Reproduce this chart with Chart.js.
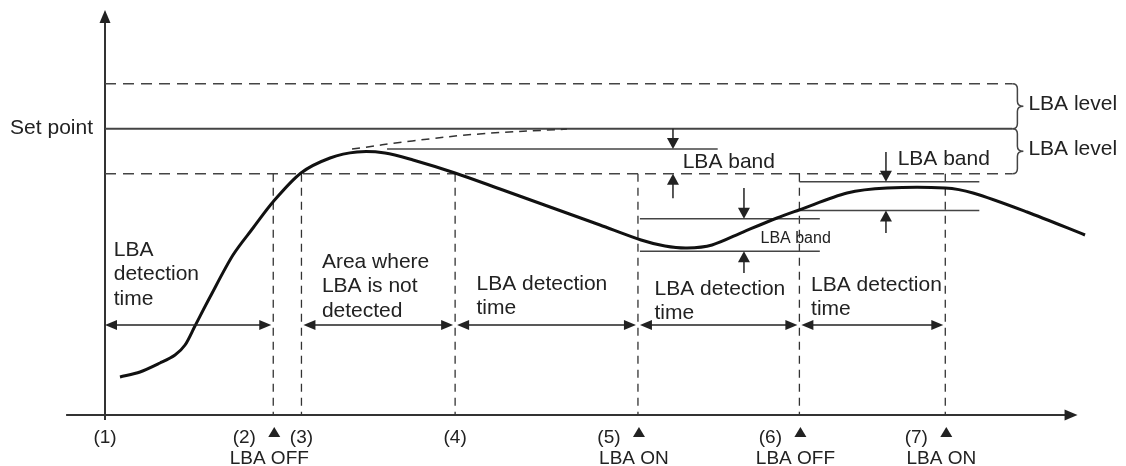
<!DOCTYPE html>
<html><head><meta charset="utf-8">
<script src="https://cdn.jsdelivr.net/npm/chart.js@4/dist/chart.umd.min.js"></script>
<style>html,body{margin:0;padding:0;background:#fff}</style>
</head><body>
<canvas id="c" width="1126" height="466"></canvas>
<script>
// ---------- data (chart units: x = time, y = process value) ----------
const curveX = [1.54,3.60,5.66,7.20,8.23,9.25,10.80,13.16,15.22,17.27,20.15,23.14,25.91,28.79,31.67,35.99,40.62,45.76,50.90,55.12,57.58,59.85,62.42,65.60,69.10,71.36,76.30,80.41,86.38,89.25,94.81,100.77];
const curveY = [9.29,10.51,12.71,14.67,17.11,21.76,28.84,39.11,45.71,52.07,59.16,62.82,64.29,64.04,62.33,59.16,55.24,50.84,46.44,42.78,41.31,40.82,41.56,44.73,48.16,50.11,54.27,55.49,55.49,54.27,49.62,44.00];
const expectX = [25.4,31.6,38.5,47.5];
const expectY = [65.0,67.0,68.7,69.9];

const setPoint = 70;
const lbaLevel = 11;
const levelEndX = 93.3;

const eventX = [0,17.3,20.2,36.0,54.8,71.4,86.4];
const eventNames = ["(1)","(2)","(3)","(4)","(5)","(6)","(7)"];
const switchEvent = [1,4,5,6];
const switchText = ["LBA OFF","LBA ON","LBA OFF","LBA ON"];

const spanFrom = [0,2,3,4,5];
const spanTo = [1,3,4,5,6];
const spanArrowY = 22.0;
const spanText = [["LBA","detection","time"],["Area where","LBA is not","detected"],["LBA detection","time"],["LBA detection","time"],["LBA detection","time"]];
const spanTextX = [0.9,22.3,38.2,56.5,72.6];
const spanTextY = [40.3,37.4,32.0,30.8,31.8];

const bandUpper = [65,48,57];
const bandLower = [59,40,50];
const bandFrom = [29.0,55.0,71.4];
const bandTo = [63.0,73.5,89.9];
const bandArrowX = [58.4,65.7,80.3];
const bandTailTop = [70,55.5,64.3];
const bandTailBottom = [53.0,34.7,44.5];
const bandLabelX = [59.4,67.4,81.5];
const bandLabelY = [61.8,43.0,62.6];
const bandLabel = ["LBA band","LBA band","LBA band"];

// ---------- styles ----------
const INK = '#222';
const FONT = "'Liberation Sans', Arial, sans-serif";
const bandFontSize = [21,16,21];

function tri(ctx, x, y, dir, len, wid){
  ctx.beginPath();
  if(dir==='up'){ctx.moveTo(x,y);ctx.lineTo(x-wid/2,y+len);ctx.lineTo(x+wid/2,y+len);}
  else if(dir==='down'){ctx.moveTo(x,y);ctx.lineTo(x-wid/2,y-len);ctx.lineTo(x+wid/2,y-len);}
  else if(dir==='right'){ctx.moveTo(x,y);ctx.lineTo(x-len,y-wid/2);ctx.lineTo(x-len,y+wid/2);}
  else {ctx.moveTo(x,y);ctx.lineTo(x+len,y-wid/2);ctx.lineTo(x+len,y+wid/2);}
  ctx.closePath();ctx.fill();
}
function line(ctx,x1,y1,x2,y2){ctx.beginPath();ctx.moveTo(x1,y1);ctx.lineTo(x2,y2);ctx.stroke();}

const diagram = {
  id:'diagram',
  beforeDatasetsDraw(chart){
    const ctx = chart.ctx, xs = chart.scales.x, ys = chart.scales.y;
    const X = v=>xs.getPixelForValue(v), Y = v=>ys.getPixelForValue(v);
    ctx.save();
    ctx.fillStyle = INK; ctx.strokeStyle = '#333';
    // axes
    ctx.lineWidth = 2;
    line(ctx, X(-4), Y(0), X(100)-10, Y(0));
    tri(ctx, X(100), Y(0), 'right', 13, 11);
    line(ctx, X(0), Y(-1.2), X(0), Y(99)+10);
    tri(ctx, X(0), Y(99), 'up', 13, 11);
    // set point & LBA levels
    ctx.strokeStyle = '#444'; ctx.lineWidth = 2;
    line(ctx, X(0), Y(setPoint), X(levelEndX), Y(setPoint));
    ctx.lineWidth = 1.5; ctx.setLineDash([11,7]);
    line(ctx, X(0), Y(setPoint+lbaLevel), X(levelEndX), Y(setPoint+lbaLevel));
    line(ctx, X(0), Y(setPoint-lbaLevel), X(levelEndX), Y(setPoint-lbaLevel));
    // vertical event lines
    ctx.setLineDash([8,6]); ctx.lineWidth = 1.3; ctx.strokeStyle = '#333';
    for(let i=1;i<eventX.length;i++) line(ctx, X(eventX[i]), Y(setPoint-lbaLevel), X(eventX[i]), Y(0));
    ctx.setLineDash([]);
    // braces
    ctx.lineWidth = 1.5; ctx.strokeStyle = '#444';
    const brace=(top,bot)=>{
      const x0=X(levelEndX), t=Y(top), b=Y(bot), m=(t+b)/2;
      ctx.beginPath(); ctx.moveTo(x0,t);
      ctx.quadraticCurveTo(x0+5,t,x0+5,t+5); ctx.lineTo(x0+5,m-5);
      ctx.quadraticCurveTo(x0+5,m,x0+11,m); ctx.quadraticCurveTo(x0+5,m,x0+5,m+5);
      ctx.lineTo(x0+5,b-5); ctx.quadraticCurveTo(x0+5,b,x0,b); ctx.stroke();
    };
    brace(setPoint+lbaLevel,setPoint); brace(setPoint,setPoint-lbaLevel);
    // LBA band lines and arrows
    ctx.lineWidth = 1.5; ctx.strokeStyle='#444';
    for(let i=0;i<bandUpper.length;i++){
      line(ctx, X(bandFrom[i]), Y(bandUpper[i]), X(bandTo[i]), Y(bandUpper[i]));
      if(bandLower[i]!==setPoint-lbaLevel) line(ctx, X(bandFrom[i]), Y(bandLower[i]), X(bandTo[i]), Y(bandLower[i]));
      const ax = X(bandArrowX[i]);
      ctx.strokeStyle='#222';
      line(ctx, ax, Y(bandTailTop[i]), ax, Y(bandUpper[i])-8);
      tri(ctx, ax, Y(bandUpper[i]), 'down', 11, 12);
      line(ctx, ax, Y(bandTailBottom[i]), ax, Y(bandLower[i])+8);
      tri(ctx, ax, Y(bandLower[i]), 'up', 11, 12);
      ctx.strokeStyle='#444';
    }
    ctx.restore();
  },
  afterDatasetsDraw(chart){
    const ctx = chart.ctx, xs = chart.scales.x, ys = chart.scales.y;
    const X = v=>xs.getPixelForValue(v), Y = v=>ys.getPixelForValue(v);
    ctx.save();
    ctx.fillStyle = INK; ctx.strokeStyle = '#222'; ctx.lineWidth = 1.5;
    // detection time arrows
    for(let i=0;i<spanFrom.length;i++){
      const a = X(eventX[spanFrom[i]]) + (spanFrom[i]===0?0:2);
      const b = X(eventX[spanTo[i]]) - 2, y = Y(spanArrowY);
      line(ctx, a+6, y, b-6, y);
      tri(ctx, a, y, 'left', 12, 10); tri(ctx, b, y, 'right', 12, 10);
    }
    // texts
    ctx.textBaseline = 'middle';
    ctx.font = `21px ${FONT}`; ctx.textAlign = 'left';
    for(let i=0;i<spanText.length;i++)
      spanText[i].forEach((t,k)=>ctx.fillText(t, X(spanTextX[i]), Y(spanTextY[i])+k*24.5));
    for(let i=0;i<bandLabel.length;i++){
      ctx.font = `${bandFontSize[i]}px ${FONT}`;
      ctx.fillText(bandLabel[i], X(bandLabelX[i]), Y(bandLabelY[i]));
    }
    ctx.font = `21px ${FONT}`;
    const bx = X(levelEndX)+16;
    ctx.fillText('LBA level', bx, Y(setPoint+lbaLevel/2)-2);
    ctx.fillText('LBA level', bx, Y(setPoint-lbaLevel/2)-2);
    ctx.textAlign = 'right';
    ctx.fillText('Set point', X(0)-12, Y(setPoint));
    // event labels
    ctx.font = `19px ${FONT}`; ctx.textAlign='center';
    const ly = Y(0)+23;
    eventX.forEach((ex,i)=>{
      const s = switchEvent.indexOf(i);
      if(s<0) ctx.fillText(eventNames[i], X(ex), ly);
      else {
        ctx.fillText(eventNames[i], X(ex)-29, ly);
        tri(ctx, X(ex)+1, Y(0)+12, 'up', 10, 12);
        ctx.fillText(switchText[s], X(ex)-4, ly+21);
      }
    });
    ctx.restore();
  }
};

new Chart(document.getElementById('c'), {
  type:'line',
  data:{datasets:[
    {data: curveX.map((x,i)=>({x, y:curveY[i]})), borderColor:'#111', borderWidth:3, pointRadius:0, tension:0.3, fill:false},
    {data: expectX.map((x,i)=>({x, y:expectY[i]})), borderColor:'#333', borderWidth:1.5, borderDash:[8,6], pointRadius:0, tension:0.4, fill:false}
  ]},
  options:{
    responsive:false, animation:false, events:[],
    layout:{padding:{left:105, right:29, top:10, bottom:51}},
    plugins:{legend:{display:false}, tooltip:{enabled:false}},
    scales:{
      x:{type:'linear', min:0, max:102, display:false},
      y:{type:'linear', min:0, max:99, display:false}
    }
  },
  plugins:[diagram]
});
</script>
</body></html>
